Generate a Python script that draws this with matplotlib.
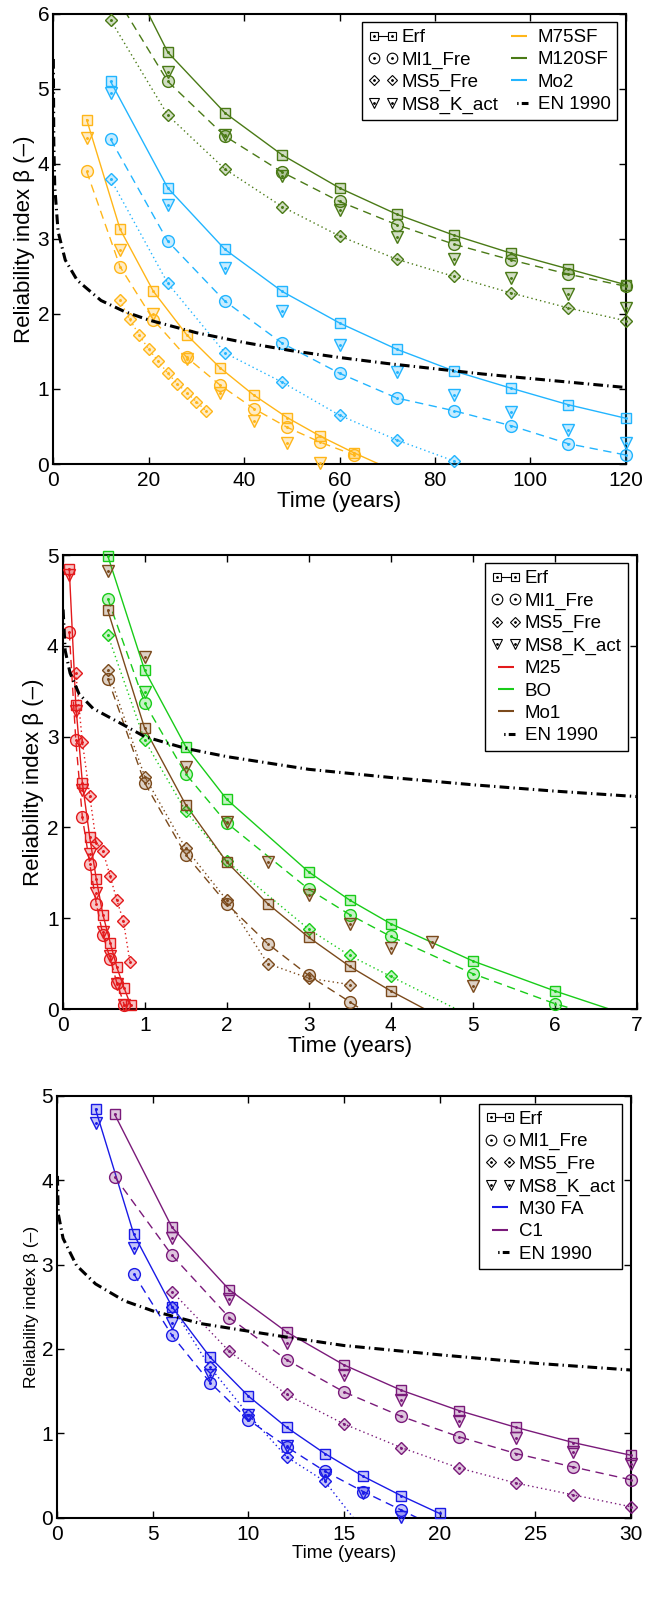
import numpy as np
import matplotlib.pyplot as plt
from matplotlib.lines import Line2D
from matplotlib.legend_handler import HandlerLine2D
from matplotlib.colors import to_rgba

plt.rcParams['font.family'] = ['Liberation Sans', 'DejaVu Sans']
plt.rcParams['lines.scale_dashes'] = False

# ---------------------------------------------------------------------------
# Panel 1 : time in years, 0-120
# ---------------------------------------------------------------------------
p1_x_m75 = [7, 14, 21, 28, 35, 42, 49, 56, 63, 70]
p1_m75_erf = [4.59, 3.13, 2.30, 1.72, 1.28, 0.92, 0.62, 0.37, 0.15, -0.05]
p1_x_m75_mi1 = [7, 14, 21, 28, 35, 42, 49, 56, 63]
p1_m75_mi1 = [3.90, 2.63, 1.92, 1.42, 1.05, 0.74, 0.49, 0.29, 0.12]
p1_x_m75_ms5 = [14, 16, 18, 20, 22, 24, 26, 28, 30, 32]
p1_m75_ms5 = [2.18, 1.93, 1.72, 1.53, 1.37, 1.21, 1.07, 0.95, 0.83, 0.71]
p1_x_m75_ms8 = [7, 14, 21, 28, 35, 42, 49, 56]
p1_m75_ms8 = [4.35, 2.85, 2.00, 1.40, 0.95, 0.58, 0.28, 0.01]

p1_x_mo2 = [12, 24, 36, 48, 60, 72, 84, 96, 108, 120]
p1_mo2_erf = [5.10, 3.68, 2.86, 2.30, 1.88, 1.53, 1.24, 1.01, 0.79, 0.61]
p1_mo2_mi1 = [4.33, 2.97, 2.17, 1.61, 1.21, 0.88, 0.71, 0.51, 0.27, 0.12]
p1_x_mo2_ms5 = [12, 24, 36, 48, 60, 72, 84]
p1_mo2_ms5 = [3.80, 2.41, 1.48, 1.09, 0.65, 0.32, 0.04]
p1_mo2_ms8 = [4.94, 3.45, 2.61, 2.04, 1.59, 1.23, 0.92, 0.69, 0.45, 0.28]

p1_x_m120 = [12, 24, 36, 48, 60, 72, 84, 96, 108, 120]
p1_m120_erf = [7.00, 5.49, 4.68, 4.12, 3.68, 3.33, 3.05, 2.81, 2.60, 2.39]
p1_m120_mi1 = [6.35, 5.10, 4.37, 3.89, 3.50, 3.19, 2.93, 2.72, 2.53, 2.37]
p1_m120_ms5 = [5.92, 4.65, 3.93, 3.43, 3.04, 2.73, 2.50, 2.28, 2.08, 1.91]
p1_x_m120_ms8 = [24, 36, 48, 60, 72, 84, 96, 108, 120]
p1_m120_ms8 = [5.23, 4.39, 3.84, 3.38, 3.02, 2.73, 2.48, 2.27, 2.08]

p1_en_x = [0.01, 0.1, 0.3, 1, 2.5, 5, 10, 15, 20, 30, 40, 50, 60, 70, 80, 90, 100, 110, 120]
p1_en_y = [5.4, 4.3, 3.7, 3.1, 2.72, 2.45, 2.18, 2.03, 1.92, 1.75, 1.62, 1.51, 1.42,
           1.34, 1.27, 1.20, 1.14, 1.08, 1.02]

# ---------------------------------------------------------------------------
# Panel 2 : time in years, 0-7
# ---------------------------------------------------------------------------
p2_x_m25 = [0.08, 0.16, 0.24, 0.33, 0.41, 0.49, 0.58, 0.66, 0.75, 0.83]
p2_m25_erf = [4.85, 3.35, 2.49, 1.89, 1.43, 1.04, 0.73, 0.46, 0.23, 0.04]
p2_x_m25_mi1 = [0.08, 0.16, 0.24, 0.33, 0.41, 0.49, 0.58, 0.66, 0.75]
p2_m25_mi1 = [4.15, 2.96, 2.11, 1.60, 1.16, 0.82, 0.55, 0.29, 0.05]
p2_x_m25_ms5 = [0.16, 0.24, 0.33, 0.41, 0.49, 0.58, 0.66, 0.74, 0.82]
p2_m25_ms5 = [3.70, 2.94, 2.35, 1.83, 1.74, 1.46, 1.20, 0.97, 0.52]
p2_m25_ms8 = [4.78, 3.28, 2.41, 1.71, 1.28, 0.85, 0.58, 0.28, 0.05]

p2_x_bo = [0.55, 1.0, 1.5, 2.0, 3.0, 3.5, 4.0, 5.0, 6.0, 7.0]
p2_bo_erf = [4.99, 3.73, 2.89, 2.31, 1.51, 1.20, 0.94, 0.53, 0.20, -0.10]
p2_bo_mi1 = [4.52, 3.37, 2.59, 2.05, 1.32, 1.04, 0.80, 0.39, 0.06, -0.20]
p2_x_bo_ms5 = [0.55, 1.0, 1.5, 2.0, 3.0, 3.5, 4.0, 5.0]
p2_bo_ms5 = [4.12, 2.96, 2.18, 1.63, 0.88, 0.59, 0.36, -0.09]
p2_x_bo_ms8 = [1.0]
p2_bo_ms8 = [3.49]

p2_x_mo1 = [0.55, 1.0, 1.5, 2.0, 2.5, 3.0, 3.5, 4.0, 4.5]
p2_mo1_erf = [4.39, 3.09, 2.25, 1.62, 1.16, 0.79, 0.47, 0.20, -0.04]
p2_x_mo1_mi1 = [0.55, 1.0, 1.5, 2.0, 2.5, 3.0, 3.5, 4.0]
p2_mo1_mi1 = [3.64, 2.49, 1.70, 1.16, 0.72, 0.37, 0.08, -0.21]
p2_x_mo1_ms5 = [0.55, 1.0, 1.5, 2.0, 2.5, 3.0, 3.5]
p2_mo1_ms5 = [3.73, 2.56, 1.77, 1.20, 0.50, 0.34, 0.27]
p2_x_mo1_ms8 = [0.55, 1.0, 1.5, 2.0, 2.5, 3.0, 3.5, 4.0, 4.5, 5.0]
p2_mo1_ms8 = [4.82, 3.88, 2.67, 2.06, 1.62, 1.26, 0.94, 0.67, 0.74, 0.25]

p2_en_x = [0.005, 0.03, 0.09, 0.2, 0.37, 0.74, 1.0, 1.5, 2, 3, 4, 5, 6, 7]
p2_en_y = [4.4, 3.95, 3.70, 3.47, 3.31, 3.13, 3.0, 2.87, 2.78, 2.64, 2.55, 2.47, 2.40, 2.34]

# ---------------------------------------------------------------------------
# Panel 3 : time in years, 0-30
# ---------------------------------------------------------------------------
p3_x_m30 = [2, 4, 6, 8, 10, 12, 14, 16, 18, 20]
p3_m30_erf = [4.84, 3.36, 2.50, 1.90, 1.44, 1.07, 0.76, 0.49, 0.26, 0.05]
p3_x_m30_mi1 = [4, 6, 8, 10, 12, 14, 16, 18, 20]
p3_m30_mi1 = [2.89, 2.16, 1.60, 1.16, 0.84, 0.55, 0.31, 0.09, -0.13]
p3_x_m30_ms5 = [6, 8, 10, 12, 14, 16]
p3_m30_ms5 = [2.50, 1.78, 1.22, 0.72, 0.43, -0.15]
p3_x_m30_ms8 = [2, 4, 6, 8, 10, 12, 14, 16, 18]
p3_m30_ms8 = [4.68, 3.20, 2.31, 1.69, 1.22, 0.85, 0.51, 0.29, 0.01]

p3_x_c1 = [3, 6, 9, 12, 15, 18, 21, 24, 27, 30]
p3_c1_erf = [4.78, 3.44, 2.70, 2.20, 1.81, 1.51, 1.27, 1.07, 0.89, 0.74]
p3_c1_mi1 = [4.04, 3.11, 2.37, 1.87, 1.49, 1.20, 0.96, 0.76, 0.60, 0.45]
p3_x_c1_ms = [6, 9, 12, 15, 18, 21, 24, 27, 30]
p3_c1_ms5 = [2.68, 1.97, 1.46, 1.11, 0.83, 0.59, 0.41, 0.27, 0.13]
p3_c1_ms8 = [3.32, 2.59, 2.07, 1.69, 1.39, 1.14, 0.95, 0.78, 0.64]

p3_en_x = [0.005, 0.05, 0.3, 1.0, 2.0, 3.5, 5, 7.5, 10, 12, 15, 20, 25, 30]
p3_en_y = [4.05, 3.6, 3.31, 2.99, 2.77, 2.57, 2.45, 2.30, 2.21, 2.14, 2.04, 1.93, 1.83, 1.75]

# colours
c_m75, c_m120, c_mo2 = '#ffb619', '#4a7a16', '#22b5ff'
c_m25, c_bo, c_mo1 = '#e31a1c', '#19cc19', '#7b4a1c'
c_m30, c_c1 = '#1a1ae6', '#7a1a7a'

DASHED = (0, (6, 4))
DOTTED = (0, (1, 2.2))
EN_STYLE = (0, (7, 3, 1, 3))
SIZES = {'s': 7, 'o': 8.5, 'D': 6, 'v': 8}


def curve(ax, x, y, col, mk, ls):
    x = np.asarray(x, float)
    y = np.asarray(y, float)
    if ls is not None:
        ax.plot(x, y, color=col, lw=1.0, ls=ls, zorder=2)
    x0, x1 = ax.get_xlim()
    y0, y1 = ax.get_ylim()
    ok = (x >= x0) & (x <= x1) & (y >= y0) & (y <= y1)
    ax.plot(x[ok], y[ok], ls='none', marker=mk, ms=SIZES[mk], mfc=to_rgba(col, 0.25),
            mec=col, mew=1.0, clip_on=False, zorder=3)
    ax.plot(x[ok], y[ok], ls='none', marker='.', ms=2.2, color=col, clip_on=False, zorder=3)


def en1990(ax, x, y):
    ax.plot(x, y, color='k', lw=2.2, ls=EN_STYLE, zorder=4)


def setup(ax, xmax, ymax, xticks, ylab_size, xlab_size):
    ax.set_xlim(0, xmax)
    ax.set_ylim(0, ymax)
    ax.set_xticks(xticks)
    ax.set_yticks(range(0, ymax + 1))
    ax.tick_params(direction='in', top=True, right=True, length=5, width=1,
                   labelsize=15)
    ax.tick_params(axis='x', pad=5)
    ax.tick_params(axis='y', pad=3)
    for s in ax.spines.values():
        s.set_linewidth(1.5)
    ax.set_ylabel('Reliability index β (–)', fontsize=ylab_size, labelpad=2)
    ax.set_xlabel('Time (years)', fontsize=xlab_size, labelpad=1)


def add_legend(ax, models, ncol):
    handles, labels = [], []
    hm = {}
    for mk, ls, lab in [('s', '-', 'Erf'), ('o', 'none', 'MI1_Fre'),
                        ('D', 'none', 'MS5_Fre'), ('v', 'none', 'MS8_K_act')]:
        h = Line2D([], [], color='k', ls=ls, lw=0.8, marker=mk, ms=SIZES[mk] * 0.9,
                   mfc='white', mec='k', mew=0.8)
        d = Line2D([], [], ls='none', marker='.', ms=2, color='k')
        handles.append((h, d))
        labels.append(lab)
    for col, lab in models:
        h = Line2D([], [], ls='none', marker='_', ms=12, mew=1.5, color=col)
        hm[h] = HandlerLine2D(numpoints=1)
        handles.append(h)
        labels.append(lab)
    handles.append(Line2D([], [], color='k', lw=2.2, ls=(43.5, (1, 2.3, 5, 40))))
    labels.append('EN 1990')
    leg = ax.legend(handles, labels, loc='upper right', ncol=ncol, fontsize=13.5,
                    numpoints=2, handlelength=1.56, handletextpad=0.23,
                    columnspacing=0.3, labelspacing=0.28, borderpad=0.35,
                    borderaxespad=0.45, fancybox=False, edgecolor='k',
                    framealpha=1, handler_map=hm)
    leg.get_frame().set_linewidth(1.0)
    leg.set_zorder(10)


fig = plt.figure(figsize=(6.47, 16.05), dpi=100)

# ---- panel 1
ax1 = fig.add_axes([0.0824, 0.7109, 0.8847, 0.2804])
setup(ax1, 120, 6, range(0, 121, 20), 16, 16)
curve(ax1, p1_x_m75, p1_m75_erf, c_m75, 's', '-')
curve(ax1, p1_x_m75_mi1, p1_m75_mi1, c_m75, 'o', DASHED)
curve(ax1, p1_x_m75_ms5, p1_m75_ms5, c_m75, 'D', DOTTED)
curve(ax1, p1_x_m75_ms8, p1_m75_ms8, c_m75, 'v', None)
curve(ax1, p1_x_mo2, p1_mo2_erf, c_mo2, 's', '-')
curve(ax1, p1_x_mo2, p1_mo2_mi1, c_mo2, 'o', DASHED)
curve(ax1, p1_x_mo2_ms5, p1_mo2_ms5, c_mo2, 'D', DOTTED)
curve(ax1, p1_x_mo2, p1_mo2_ms8, c_mo2, 'v', None)
curve(ax1, p1_x_m120, p1_m120_erf, c_m120, 's', '-')
curve(ax1, p1_x_m120, p1_m120_mi1, c_m120, 'o', DASHED)
curve(ax1, p1_x_m120, p1_m120_ms5, c_m120, 'D', DOTTED)
curve(ax1, p1_x_m120_ms8, p1_m120_ms8, c_m120, 'v', None)
en1990(ax1, p1_en_x, p1_en_y)
add_legend(ax1, [(c_m75, 'M75SF'), (c_m120, 'M120SF'), (c_mo2, 'Mo2')], 2)

# ---- panel 2
ax2 = fig.add_axes([0.0969, 0.3713, 0.8872, 0.2829])
setup(ax2, 7, 5, range(0, 8), 16, 16)
curve(ax2, p2_x_m25, p2_m25_erf, c_m25, 's', '-')
curve(ax2, p2_x_m25_mi1, p2_m25_mi1, c_m25, 'o', DASHED)
curve(ax2, p2_x_m25_ms5, p2_m25_ms5, c_m25, 'D', DOTTED)
curve(ax2, p2_x_m25_mi1, p2_m25_ms8, c_m25, 'v', None)
curve(ax2, p2_x_bo, p2_bo_erf, c_bo, 's', '-')
curve(ax2, p2_x_bo, p2_bo_mi1, c_bo, 'o', DASHED)
curve(ax2, p2_x_bo_ms5, p2_bo_ms5, c_bo, 'D', DOTTED)
curve(ax2, p2_x_bo_ms8, p2_bo_ms8, c_bo, 'v', None)
curve(ax2, p2_x_mo1, p2_mo1_erf, c_mo1, 's', '-')
curve(ax2, p2_x_mo1_mi1, p2_mo1_mi1, c_mo1, 'o', DASHED)
curve(ax2, p2_x_mo1_ms5, p2_mo1_ms5, c_mo1, 'D', DOTTED)
curve(ax2, p2_x_mo1_ms8, p2_mo1_ms8, c_mo1, 'v', None)
en1990(ax2, p2_en_x, p2_en_y)
add_legend(ax2, [(c_m25, 'M25'), (c_bo, 'BO'), (c_mo1, 'Mo1')], 1)

# ---- panel 3
ax3 = fig.add_axes([0.0886, 0.0544, 0.8862, 0.2629])
setup(ax3, 30, 5, range(0, 31, 5), 12.5, 13.5)
curve(ax3, p3_x_m30, p3_m30_erf, c_m30, 's', '-')
curve(ax3, p3_x_m30_mi1, p3_m30_mi1, c_m30, 'o', DASHED)
curve(ax3, p3_x_m30_ms5, p3_m30_ms5, c_m30, 'D', DOTTED)
curve(ax3, p3_x_m30_ms8, p3_m30_ms8, c_m30, 'v', None)
curve(ax3, p3_x_c1, p3_c1_erf, c_c1, 's', '-')
curve(ax3, p3_x_c1, p3_c1_mi1, c_c1, 'o', DASHED)
curve(ax3, p3_x_c1_ms, p3_c1_ms5, c_c1, 'D', DOTTED)
curve(ax3, p3_x_c1_ms, p3_c1_ms8, c_c1, 'v', None)
en1990(ax3, p3_en_x, p3_en_y)
add_legend(ax3, [(c_m30, 'M30 FA'), (c_c1, 'C1')], 1)

fig.savefig('out.png', dpi=100)
